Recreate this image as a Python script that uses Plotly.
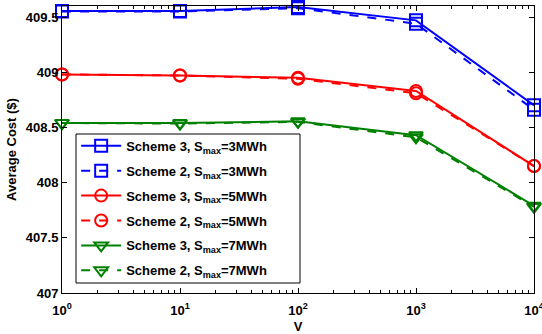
import plotly.graph_objects as go

V = [1, 10, 100, 1000, 10000]
s3_3 = [409.555, 409.555, 409.59, 409.47, 408.70]
s2_3 = [409.55, 409.55, 409.58, 409.44, 408.66]
s3_5 = [408.98, 408.97, 408.95, 408.83, 408.15]
s2_5 = [408.98, 408.97, 408.94, 408.81, 408.15]
s3_7 = [408.54, 408.54, 408.555, 408.43, 407.79]
s2_7 = [408.54, 408.535, 408.55, 408.41, 407.78]

series = [
    ("Scheme 3, S<sub>max</sub>=3MWh", s3_3, "#0000ff", "solid", "square-open"),
    ("Scheme 2, S<sub>max</sub>=3MWh", s2_3, "#0000ff", "dash", "square-open"),
    ("Scheme 3, S<sub>max</sub>=5MWh", s3_5, "#ff0000", "solid", "circle-open"),
    ("Scheme 2, S<sub>max</sub>=5MWh", s2_5, "#ff0000", "dash", "circle-open"),
    ("Scheme 3, S<sub>max</sub>=7MWh", s3_7, "#008000", "solid", "triangle-down-open"),
    ("Scheme 2, S<sub>max</sub>=7MWh", s2_7, "#008000", "dash", "triangle-down-open"),
]

xtickvals = [1, 10, 100, 1000, 10000]
xticktext = ["10<sup>0</sup>", "10<sup>1</sup>", "10<sup>2</sup>", "10<sup>3</sup>", "10<sup>4</sup>"]
xminorvals = [m * d for d in [1, 10, 100, 1000] for m in range(2, 10)]
ytickvals = [407, 407.5, 408, 408.5, 409, 409.5]
yticktext = ["407", "407.5", "408", "408.5", "409", "409.5"]

fig = go.Figure()
for i, (name, ys, col, dash, sym) in enumerate(series):
    fig.add_trace(go.Scatter(
        x=V, y=ys, name=name, mode="lines+markers", legendgroup=f"g{i}",
        line=dict(color=col, width=2, dash=dash),
        marker=dict(symbol=sym, size=12, color=col, line=dict(width=2, color=col)),
        cliponaxis=False,
    ))

font = dict(family="Liberation Sans, Arial, sans-serif", size=13, color="black", weight="bold")

# legend frame (wider than plotly's auto legend box, as in the reference)
fig.add_shape(type="rect", xref="paper", yref="paper",
              x0=14/472, x1=238/472, y0=10/287, y1=159/287,
              line=dict(color="black", width=1), fillcolor="white", layer="below")

fig.update_layout(
    width=542, height=334,
    margin=dict(l=62, r=8, t=6, b=41),
    paper_bgcolor="white", plot_bgcolor="white",
    font=font,
    showlegend=True,
    legend=dict(
        x=0.03, y=0.565, xanchor="left", yanchor="top",
        bgcolor="rgba(0,0,0,0)", borderwidth=0,
        font=font,
        tracegroupgap=5, itemwidth=40,
    ),
)

fig.update_xaxes(
    type="log", range=[0, 4], automargin=False,
    tickmode="array", tickvals=xtickvals, ticktext=xticktext,
    ticks="inside", ticklen=5, tickcolor="black", tickwidth=1,
    minor=dict(tickmode="array", tickvals=xminorvals, ticks="inside", ticklen=3,
               tickcolor="black", tickwidth=1, showgrid=False),
    showline=True, linecolor="black", linewidth=1, mirror="ticks",
    showgrid=False, zeroline=False,
    ticklabeloverflow="allow", ticklabelstandoff=5,
    title=dict(text="V", standoff=8, font=font),
    tickfont=font,
)
fig.update_yaxes(
    range=[407, 409.6],
    tickvals=ytickvals, ticktext=yticktext,
    ticks="inside", ticklen=5, tickcolor="black", tickwidth=1,
    showline=True, linecolor="black", linewidth=1, mirror="ticks",
    showgrid=False, zeroline=False,
    title=dict(text="Average Cost ($)", standoff=6, font=font),
    tickfont=font,
)

fig.write_html("out.html", post_script="document.body.style.margin='0';",
               config={"displayModeBar": False})
